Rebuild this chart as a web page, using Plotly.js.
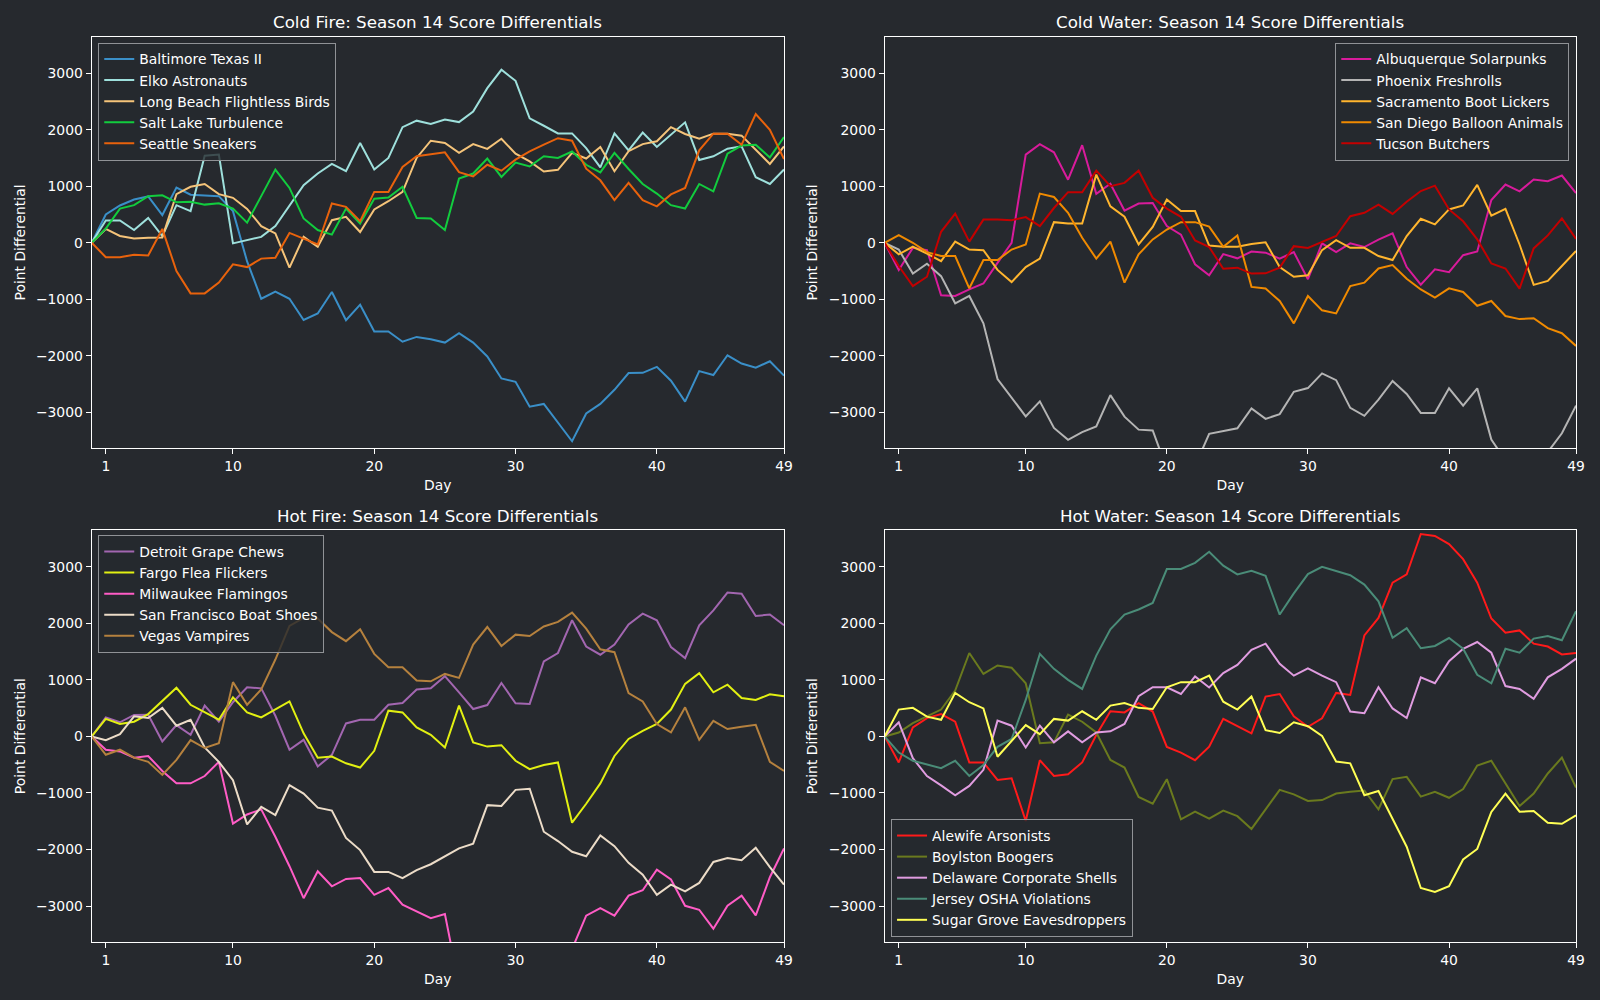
<!DOCTYPE html>
<html>
<head>
<meta charset="utf-8">
<script src="https://cdn.plot.ly/plotly-3.0.1.min.js"></script>
<style>
  html, body { margin: 0; padding: 0; background: #26292e; }
  #chart { width: 1600px; height: 1000px; }
</style>
</head>
<body>
<div id="chart"></div>
<script>
// ---------- DATA ----------
const days = [0,1,2,3,4,5,6,7,8,9,10,11,12,13,14,15,16,17,18,19,20,21,22,23,24,25,26,27,28,29,30,31,32,33,34,35,36,37,38,39,40,41,42,43,44,45,46,47,48,49];
const xTickVals = [1, 10, 20, 30, 40, 49];
const xTickText = ['1', '10', '20', '30', '40', '49'];
const yTickVals = [-3000, -2000, -1000, 0, 1000, 2000, 3000];
const yTickText = ['\u22123000', '\u22122000', '\u22121000', '0', '1000', '2000', '3000'];

const panelTitles = [
  'Cold Fire: Season 14 Score Differentials',
  'Cold Water: Season 14 Score Differentials',
  'Hot Fire: Season 14 Score Differentials',
  'Hot Water: Season 14 Score Differentials'
];

// Cold Fire
const coldFireTeams = ['Baltimore Texas II', 'Elko Astronauts', 'Long Beach Flightless Birds', 'Salt Lake Turbulence', 'Seattle Sneakers'];
const baltimore = [0,500,660,765,820,490,975,850,835,825,560,-330,-990,-865,-990,-1365,-1250,-870,-1370,-1095,-1570,-1570,-1750,-1665,-1705,-1765,-1600,-1765,-2010,-2400,-2460,-2900,-2850,-3180,-3510,-3020,-2850,-2600,-2305,-2300,-2195,-2440,-2810,-2270,-2340,-1990,-2135,-2210,-2095,-2350];
const elko = [0,395,395,225,440,120,665,560,1540,1560,-10,50,105,295,650,1020,1225,1395,1265,1765,1295,1500,2045,2160,2100,2180,2135,2320,2735,3060,2865,2200,2070,1935,1935,1675,1335,1935,1635,1950,1695,1910,2130,1465,1530,1665,1705,1160,1040,1295];
const longBeach = [0,245,120,75,90,95,860,990,1040,860,795,600,295,165,-440,105,-70,400,460,190,590,735,900,1500,1805,1765,1590,1745,1660,1840,1575,1440,1260,1290,1590,1490,1695,1265,1620,1745,1795,2045,1925,1840,1930,1930,1895,1650,1395,1705];
const saltLake = [0,250,605,665,825,840,715,725,675,700,605,355,825,1295,970,430,225,145,605,340,780,800,990,440,430,225,1135,1225,1490,1165,1420,1350,1530,1500,1615,1380,1245,1590,1305,1040,870,665,605,1040,910,1575,1720,1735,1510,1870];
const seattle = [0,-255,-255,-210,-225,245,-500,-895,-895,-705,-380,-430,-280,-265,175,75,-30,695,635,380,900,900,1340,1530,1570,1600,1250,1175,1380,1275,1470,1615,1735,1850,1805,1310,1105,755,1060,755,645,855,970,1635,1930,1930,1735,2275,2000,1480];
const coldFireColors = ['#3a8fc8', '#9ee0dc', '#f5c47a', '#12cc3e', '#e8620c'];

// Cold Water
const coldWaterTeams = ['Albuquerque Solarpunks', 'Phoenix Freshrolls', 'Sacramento Boot Lickers', 'San Diego Balloon Animals', 'Tucson Butchers'];
const albuquerque = [0,-480,-90,-130,-930,-940,-825,-720,-355,0,1560,1745,1600,1115,1725,865,1045,570,695,705,295,145,-380,-575,-200,-275,-155,-175,-280,-165,-645,-10,-165,-10,-75,55,165,-430,-740,-470,-520,-220,-155,755,1030,910,1120,1090,1190,880];
const phoenix = [0,-120,-545,-370,-590,-1070,-940,-1425,-2410,-2750,-3070,-2805,-3275,-3485,-3350,-3250,-2695,-3075,-3305,-3320,-4000,-4150,-3950,-3380,-3335,-3280,-2930,-3115,-3030,-2635,-2570,-2310,-2430,-2920,-3060,-2775,-2445,-2675,-3010,-3010,-2575,-2880,-2575,-3480,-3850,-4000,-3900,-3700,-3370,-2880];
const sacramento = [0,-205,-70,-190,-325,20,-120,-130,-480,-695,-430,-280,365,340,340,1205,645,460,-30,280,765,560,560,-50,-70,-70,-20,10,-430,-600,-575,-130,45,-90,-90,-235,-305,120,425,325,590,660,1025,480,600,-30,-745,-675,-410,-145];
const sanDiego = [0,135,0,-165,-235,-235,-805,-305,-305,-120,-30,870,810,530,90,-280,20,-705,-205,60,235,365,365,285,-70,130,-780,-810,-1030,-1425,-940,-1195,-1250,-765,-705,-455,-395,-635,-825,-970,-805,-870,-1115,-1030,-1295,-1350,-1335,-1510,-1600,-1825];
const tucson = [0,-410,-765,-600,195,515,20,410,410,400,455,295,615,895,895,1275,1000,1060,1275,795,605,460,40,-75,-460,-440,-545,-540,-440,-60,-90,10,120,470,530,675,510,725,915,1010,590,380,60,-365,-455,-810,-100,130,430,70];
const coldWaterColors = ['#d81b9b', '#b4b4b4', '#ffb52e', '#f08a00', '#c40000'];

// Hot Fire
const hotFireTeams = ['Detroit Grape Chews', 'Fargo Flea Flickers', 'Milwaukee Flamingos', 'San Francisco Boat Shoes', 'Vegas Vampires'];
const detroit = [0,335,250,380,385,-90,200,30,545,260,605,870,850,365,-235,-60,-530,-325,230,295,295,560,590,830,850,1065,780,485,555,945,585,575,1325,1475,2055,1590,1445,1625,1980,2170,2055,1580,1385,1965,2230,2545,2525,2130,2155,1965];
const fargo = [0,310,220,260,395,635,860,560,425,295,690,425,335,475,620,55,-375,-355,-475,-550,-255,455,425,160,30,-195,545,-105,-180,-155,-430,-580,-505,-460,-1525,-1190,-830,-345,-45,100,220,475,930,1120,780,915,680,645,745,710];
const milwaukee = [0,-235,-265,-375,-345,-610,-830,-830,-700,-450,-1540,-1380,-1290,-1775,-2295,-2860,-2385,-2650,-2520,-2505,-2800,-2680,-2975,-3095,-3215,-3140,-4400,-4500,-4600,-4400,-4300,-4100,-4000,-3900,-3760,-3170,-3035,-3170,-2815,-2720,-2355,-2530,-2995,-3065,-3400,-2995,-2815,-3165,-2490,-1980];
const sanFrancisco = [0,-65,40,355,325,505,190,295,-195,-450,-775,-1555,-1245,-1390,-860,-1010,-1260,-1310,-1795,-2010,-2395,-2395,-2505,-2365,-2260,-2120,-1980,-1895,-1215,-1230,-945,-925,-1685,-1850,-2040,-2120,-1750,-1940,-2235,-2445,-2800,-2620,-2740,-2590,-2220,-2150,-2190,-1970,-2310,-2620];
const vegas = [0,-325,-235,-375,-450,-680,-415,-65,-205,-120,960,560,830,1360,1955,2095,2085,1845,1685,1895,1460,1225,1225,990,975,1105,1035,1625,1935,1600,1800,1775,1945,2025,2190,1905,1540,1490,765,620,220,70,515,-60,275,130,170,205,-450,-610];
const hotFireColors = ['#a266b0', '#e2f012', '#ff5cc6', '#ecdcc8', '#b5813e'];

// Hot Water
const hotWaterTeams = ['Alewife Arsonists', 'Boylston Boogers', 'Delaware Corporate Shells', 'Jersey OSHA Violations', 'Sugar Grove Eavesdroppers'];
const alewife = [0,-460,160,325,395,260,-460,-460,-770,-740,-1495,-420,-700,-670,-460,25,445,425,590,440,-185,-285,-420,-180,310,180,55,705,750,355,170,320,770,735,1785,2095,2720,2865,3580,3545,3400,3135,2720,2085,1835,1875,1640,1590,1450,1475];
const boylston = [0,70,235,355,475,810,1475,1105,1255,1215,940,-120,-105,385,260,70,-415,-550,-1070,-1190,-755,-1465,-1330,-1455,-1310,-1410,-1635,-1290,-945,-1025,-1140,-1125,-1010,-980,-955,-1290,-755,-715,-1065,-980,-1085,-930,-515,-430,-830,-1230,-1010,-655,-375,-905];
const delaware = [0,250,-385,-700,-865,-1040,-875,-590,280,190,-195,190,-105,90,-105,70,90,220,710,870,870,750,1060,865,1120,1265,1530,1640,1285,1075,1205,1075,960,440,410,870,495,325,1045,940,1330,1550,1670,1480,890,840,665,1045,1195,1375];
const jersey = [0,-285,-430,-490,-560,-430,-700,-505,-185,-45,645,1460,1195,1000,840,1430,1895,2155,2245,2360,2960,2960,3070,3265,3020,2865,2930,2840,2155,2530,2870,3000,2930,2850,2685,2390,1745,1915,1560,1600,1740,1550,1090,940,1550,1480,1730,1775,1700,2215];
const sugarGrove = [0,475,505,350,295,770,605,495,-360,-75,200,40,310,280,445,295,545,590,505,485,870,960,960,1075,615,475,705,110,60,250,180,10,-445,-475,-1040,-965,-1465,-1950,-2680,-2750,-2650,-2175,-1990,-1335,-1010,-1330,-1320,-1525,-1545,-1395];
const hotWaterColors = ['#ff1a1a', '#6a7a1e', '#e09ce0', '#4a8c78', '#ffff55'];

// ---------- BUILD ----------
const BG = '#26292e';
const FONT = 'DejaVu Sans, Verdana, sans-serif';
const panels = [
  { teams: coldFireTeams, series: [baltimore, elko, longBeach, saltLake, seattle], colors: coldFireColors },
  { teams: coldWaterTeams, series: [albuquerque, phoenix, sacramento, sanDiego, tucson], colors: coldWaterColors },
  { teams: hotFireTeams, series: [detroit, fargo, milwaukee, sanFrancisco, vegas], colors: hotFireColors },
  { teams: hotWaterTeams, series: [alewife, boylston, delaware, jersey, sugarGrove], colors: hotWaterColors }
];

const traces = [];
panels.forEach((p, pi) => {
  const suffix = pi === 0 ? '' : String(pi + 1);
  p.series.forEach((ys, si) => {
    traces.push({
      type: 'scatter', mode: 'lines',
      x: days, y: ys, name: p.teams[si],
      xaxis: 'x' + suffix, yaxis: 'y' + suffix,
      legend: 'legend' + suffix,
      legendgroup: 'g' + pi + '_' + si,
      line: { color: p.colors[si], width: 2 },
      hoverinfo: 'skip'
    });
  });
});

const xDomains = [[0.0573, 0.49], [0.5529, 0.9850], [0.0573, 0.49], [0.5529, 0.9850]];
const yDomains = [[0.5517, 0.9633], [0.5517, 0.9633], [0.058, 0.4697], [0.058, 0.4697]];

function xAxis(i) {
  return {
    domain: xDomains[i], anchor: 'y' + (i === 0 ? '' : i + 1),
    range: [0, 49], tickmode: 'array', tickvals: xTickVals, ticktext: xTickText,
    showline: true, mirror: true, linecolor: '#ffffff', linewidth: 1,
    ticks: 'outside', ticklen: 5, tickwidth: 1, tickcolor: '#ffffff',
    showgrid: false, zeroline: false,
    tickfont: { family: FONT, size: 13.9, color: '#ffffff' },
    title: { text: 'Day', font: { family: FONT, size: 13.9, color: '#ffffff' }, standoff: 7 }
  };
}
function yAxis(i) {
  return {
    domain: yDomains[i], anchor: 'x' + (i === 0 ? '' : i + 1),
    range: [-3635, 3645], tickmode: 'array', tickvals: yTickVals, ticktext: yTickText,
    showline: true, mirror: true, linecolor: '#ffffff', linewidth: 1,
    ticks: 'outside', ticklen: 5, tickwidth: 1, tickcolor: '#ffffff',
    showgrid: false, zeroline: false,
    tickfont: { family: FONT, size: 13.9, color: '#ffffff' },
    title: { text: 'Point Differential', font: { family: FONT, size: 13.9, color: '#ffffff' }, standoff: 7 }
  };
}
function legendCfg(x, y, xanchor, yanchor) {
  return {
    x: x, y: y, xanchor: xanchor, yanchor: yanchor, xref: 'paper', yref: 'paper',
    bgcolor: 'rgba(38,41,46,0.8)', bordercolor: '#909296', borderwidth: 1,
    font: { family: FONT, size: 13.9, color: '#ffffff' },
    itemwidth: 30, tracegroupgap: 2, traceorder: 'normal'
  };
}

const annotations = panelTitles.map((t, i) => ({
  text: t, xref: 'paper', yref: 'paper',
  x: (xDomains[i][0] + xDomains[i][1]) / 2,
  y: i < 2 ? 0.9775 : 0.484,
  xanchor: 'center', yanchor: 'middle', showarrow: false,
  font: { family: FONT, size: 16.7, color: '#ffffff' }
}));

const layout = {
  width: 1600, height: 1000,
  margin: { l: 0, r: 0, t: 0, b: 0 },
  paper_bgcolor: BG, plot_bgcolor: BG,
  font: { family: FONT, color: '#ffffff' },
  showlegend: true,
  xaxis: xAxis(0), yaxis: yAxis(0),
  xaxis2: xAxis(1), yaxis2: yAxis(1),
  xaxis3: xAxis(2), yaxis3: yAxis(2),
  xaxis4: xAxis(3), yaxis4: yAxis(3),
  legend: legendCfg(0.0614, 0.9575, 'left', 'top'),
  legend2: legendCfg(0.9808, 0.9575, 'right', 'top'),
  legend3: legendCfg(0.0614, 0.465, 'left', 'top'),
  legend4: legendCfg(0.5569, 0.063, 'left', 'bottom'),
  annotations: annotations
};

Plotly.newPlot('chart', traces, layout, { displayModeBar: false, staticPlot: true });
</script>
</body>
</html>
